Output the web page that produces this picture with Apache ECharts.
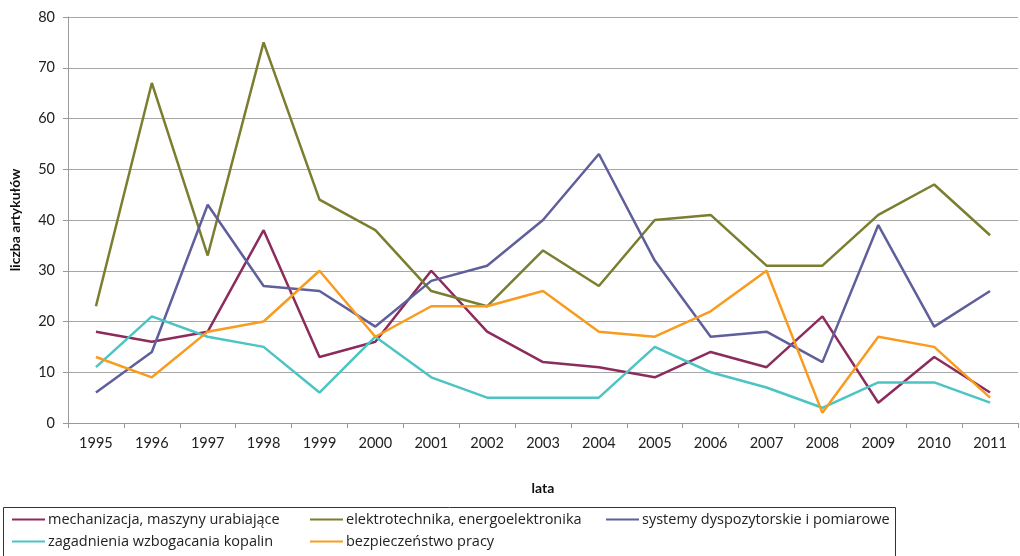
<!DOCTYPE html>
<html><head><meta charset="utf-8">
<script src="https://cdn.jsdelivr.net/npm/echarts@6/dist/echarts.min.js"></script>
<style>html,body{margin:0;padding:0;background:#fff}#c{width:1020px;height:556px}</style>
</head><body><div id="c"></div>
<script>
const years = ['1995','1996','1997','1998','1999','2000','2001','2002','2003','2004','2005','2006','2007','2008','2009','2010','2011'];
const yTicks = [0,10,20,30,40,50,60,70,80];
const mechanizacja = [18,16,18,38,13,16,30,18,12,11,9,14,11,21,4,13,6];
const elektrotechnika = [23,67,33,75,44,38,26,23,34,27,40,41,31,31,41,47,37];
const systemy = [6,14,43,27,26,19,28,31,40,53,32,17,18,12,39,19,26];
const zagadnienia = [11,21,17,15,6,17,9,5,5,5,15,10,7,3,8,8,4];
const bezpieczenstwo = [13,9,18,20,30,17,23,23,26,18,17,22,30,2,17,15,5];
const names = ['mechanizacja, maszyny urabiające','elektrotechnika, energoelektronika','systemy dyspozytorskie i pomiarowe','zagadnienia wzbogacania kopalin','bezpieczeństwo pracy'];
const colors = ['#8B2C5C','#7A7E2E','#5F5F9B','#4CC4C4','#F89B1F'];
const seriesData = [mechanizacja, elektrotechnika, systemy, zagadnienia, bezpieczenstwo];
const FONT = 'Lato, "Open Sans", sans-serif';
const LFONT = '"Open Sans", Lato, sans-serif';
const chart = echarts.init(document.getElementById('c'));
const legendBase = {orient:'vertical', top:512, itemWidth:33, itemHeight:2, itemGap:7, icon:'rect',
  textStyle:{fontFamily:LFONT, fontSize:14.5, color:'#222', padding:[0,0,0,-2]}, padding:0};
chart.setOption({
  animation:false,
  color: colors,
  grid:{left:66, right:2, top:17, bottom:133},
  legend:[
    Object.assign({left:12, data:[names[0], names[3]]}, legendBase),
    Object.assign({left:310, data:[names[1], names[4]]}, legendBase),
    Object.assign({left:606, data:[names[2]]}, legendBase)
  ],
  graphic:[{type:'rect', shape:{x:3.5, y:507.5, width:892, height:60}, style:{fill:'none', stroke:'#333', lineWidth:1}}],
  xAxis:{type:'category', data:years, boundaryGap:true,
    name:'lata', nameLocation:'middle', nameGap:58,
    nameTextStyle:{fontFamily:FONT, fontSize:14, fontWeight:'bold', color:'#111'},
    axisLine:{lineStyle:{color:'#999', width:1}},
    axisTick:{show:true, length:5, lineStyle:{color:'#999'}},
    axisLabel:{fontFamily:FONT, fontSize:14.5, color:'#222', margin:13}},
  yAxis:{type:'value', min:0, max:80, interval:10,
    name:'liczba artykułów', nameLocation:'middle', nameGap:46, nameRotate:90,
    nameTextStyle:{fontFamily:FONT, fontSize:14, fontWeight:'bold', color:'#111'},
    axisLine:{show:true, lineStyle:{color:'#999'}},
    axisTick:{show:true, length:5, lineStyle:{color:'#999'}},
    splitLine:{lineStyle:{color:'#A6A6A6', width:1}},
    axisLabel:{fontFamily:FONT, fontSize:14.5, color:'#222', margin:13,
      formatter:v=>yTicks.includes(v)?String(v):''}},
  series: seriesData.map((d,i)=>({name:names[i], type:'line', data:d, symbol:'none',
    lineStyle:{width:2.5, color:colors[i]}, itemStyle:{color:colors[i]}}))
});
</script></body></html>
